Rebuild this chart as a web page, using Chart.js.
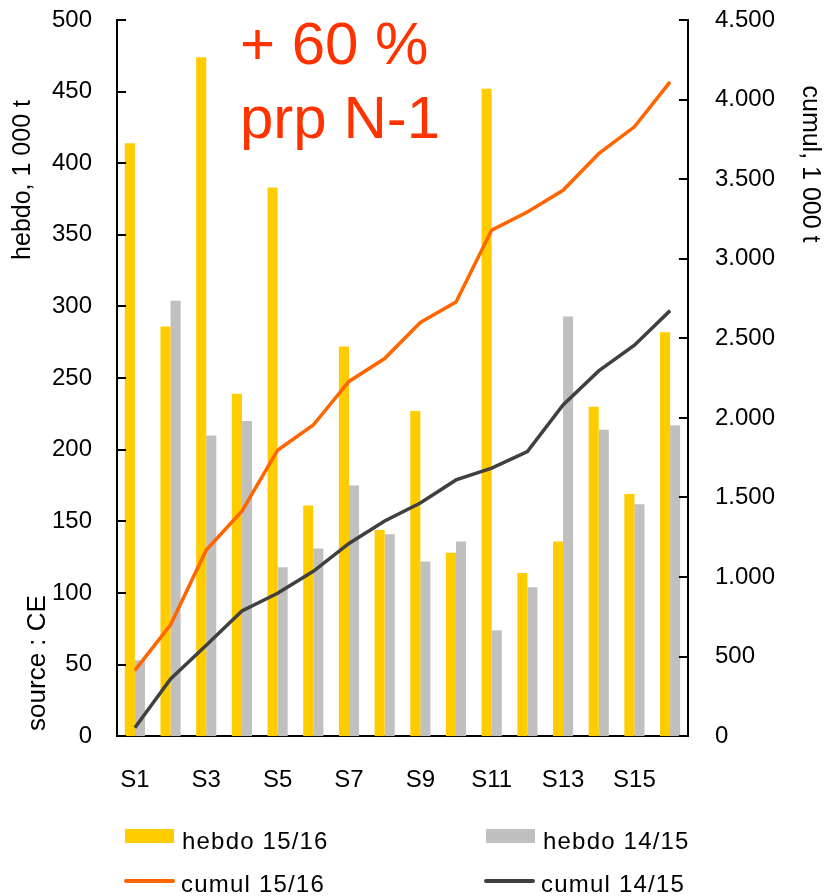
<!DOCTYPE html>
<html lang="fr">
<head>
<meta charset="utf-8">
<title>hebdo / cumul</title>
<script src="https://cdn.jsdelivr.net/npm/chart.js@4.4.1/dist/chart.umd.min.js"></script>
<style>
  html, body { margin: 0; padding: 0; background: #fff; }
  #wrap { position: relative; width: 826px; height: 896px; }
  #chart { position: absolute; left: 0; top: 0; }
  .leg { position: absolute; font: 24px "Liberation Sans", Arial, sans-serif; letter-spacing: 1.2px; color: #000; line-height: 24px; white-space: nowrap; }
  .leg i { position: absolute; display: block; }
</style>
</head>
<body>
<div id="wrap">
  <canvas id="chart" width="826" height="896"></canvas>
  <div id="legend"></div>
</div>
<script>
// semaines
const weeks = ['S1', 'S2', 'S3', 'S4', 'S5', 'S6', 'S7', 'S8', 'S9', 'S10', 'S11', 'S12', 'S13', 'S14', 'S15', 'S16'];

// volumes hebdo, 1 000 t (axe gauche)
const hebdo1516 = [414, 286, 474, 239, 383, 161, 272, 144, 227, 128, 452, 114, 136, 230, 169, 282];
const hebdo1415 = [53, 304, 210, 220, 118, 131, 175, 141, 122, 136, 74, 104, 293, 214, 162, 217];

// cumuls, 1 000 t (axe droit)
const cumul1516 = [414, 700, 1170, 1414, 1797, 1955, 2229, 2373, 2600, 2728, 3180, 3294, 3430, 3660, 3829, 4111];
const cumul1415 = [53, 360, 572, 787, 898, 1036, 1211, 1352, 1465, 1610, 1684, 1788, 2081, 2295, 2457, 2674];

// textes
const leftTitle = 'hebdo, 1 000 t';
const rightTitle = 'cumul, 1 000 t';
const sourceText = 'source : CE';
const noteLines = ['+ 60 %', 'prp N-1'];

const FONT = '"Liberation Sans", Arial, sans-serif';
Chart.defaults.font.family = FONT;
Chart.defaults.font.size = 24;
Chart.defaults.color = '#000';

// 4500 -> 4.500
function dotThousands(v) {
  return String(v).replace(/\B(?=(\d{3})+(?!\d))/g, '.');
}

// le padding des graduations ne doit pas pousser le haut du graphe
function noTopPad(scale) {
  scale.paddingTop = 0;
}

// petits traits de graduation vers l'intérieur + textes libres
const decorPlugin = {
  id: 'decor',
  afterDatasetsDraw(chart) {
    const ctx = chart.ctx;
    const yL = chart.scales.y;
    const yR = chart.scales.y2;
    ctx.save();
    ctx.strokeStyle = '#000';
    ctx.lineWidth = 2;
    yL.ticks.forEach((t, i) => {
      const py = Math.round(yL.getPixelForTick(i));
      ctx.beginPath();
      ctx.moveTo(yL.right, py);
      ctx.lineTo(yL.right + 9, py);
      ctx.stroke();
    });
    yR.ticks.forEach((t, i) => {
      const py = Math.round(yR.getPixelForTick(i));
      ctx.beginPath();
      ctx.moveTo(yR.left, py);
      ctx.lineTo(yR.left - 9, py);
      ctx.stroke();
    });
    ctx.restore();
  },
  afterDraw(chart) {
    const ctx = chart.ctx;
    ctx.save();
    ctx.fillStyle = '#000';
    ctx.textAlign = 'center';
    ctx.textBaseline = 'middle';

    // titre axe gauche
    ctx.font = '25px ' + FONT;
    ctx.save();
    ctx.translate(23, 180);
    ctx.rotate(-Math.PI / 2);
    ctx.fillText(leftTitle, 0, 0);
    ctx.restore();

    // source
    ctx.font = '26px ' + FONT;
    ctx.save();
    ctx.translate(38, 663);
    ctx.rotate(-Math.PI / 2);
    ctx.fillText(sourceText, 0, 0);
    ctx.restore();

    // titre axe droit
    ctx.font = '25px ' + FONT;
    ctx.save();
    ctx.translate(810, 164);
    ctx.rotate(Math.PI / 2);
    ctx.fillText(rightTitle, 0, 0);
    ctx.restore();

    // note en rouge
    ctx.font = '60px ' + FONT;
    ctx.fillStyle = '#FF3300';
    ctx.textAlign = 'left';
    ctx.textBaseline = 'alphabetic';
    ctx.fillText(noteLines[0], 240, 64);
    ctx.fillText(noteLines[1], 240, 138);
    ctx.restore();
  }
};

const ctx = document.getElementById('chart').getContext('2d');
const chart = new Chart(ctx, {
  type: 'bar',
  data: {
    labels: weeks,
    datasets: [
      { label: 'hebdo 15/16', data: hebdo1516, backgroundColor: '#FFCC00', yAxisID: 'y', order: 2,
        categoryPercentage: 0.565, barPercentage: 1 },
      { label: 'hebdo 14/15', data: hebdo1415, backgroundColor: '#C0C0C0', yAxisID: 'y', order: 2,
        categoryPercentage: 0.565, barPercentage: 1 },
      { type: 'line', label: 'cumul 15/16', data: cumul1516, borderColor: '#FF6600', borderWidth: 3.5,
        pointRadius: 0, tension: 0, yAxisID: 'y2', order: 0 },
      { type: 'line', label: 'cumul 14/15', data: cumul1415, borderColor: '#404040', borderWidth: 3.5,
        pointRadius: 0, tension: 0, yAxisID: 'y2', order: 1 }
    ]
  },
  options: {
    responsive: false,
    animation: false,
    layout: { padding: { left: 27, right: 24, top: 20, bottom: 71 } },
    plugins: {
      legend: { display: false },
      tooltip: { enabled: false }
    },
    scales: {
      x: {
        grid: { display: false, drawTicks: false },
        border: { display: true, color: '#000', width: 2 },
        ticks: {
          padding: 30,
          autoSkip: false,
          maxRotation: 0,
          callback: (v, i) => (i % 2 === 0 ? weeks[i] : '')
        }
      },
      y: {
        position: 'left',
        min: 0,
        max: 500,
        grid: { display: false, drawTicks: false },
        border: { display: true, color: '#000', width: 2 },
        ticks: { stepSize: 50, padding: 25 },
        afterFit: noTopPad
      },
      y2: {
        position: 'right',
        min: 0,
        max: 4500,
        grid: { display: false, drawTicks: false },
        border: { display: true, color: '#000', width: 2 },
        ticks: { stepSize: 500, padding: 27, callback: v => dotThousands(v) },
        afterFit: noTopPad
      }
    }
  },
  plugins: [decorPlugin]
});

// légende en deux colonnes, construite depuis les jeux de données
const legendEl = document.getElementById('legend');
const legendPos = [
  { x: 125, y: 829 },
  { x: 486, y: 829 },
  { x: 124, y: 872 },
  { x: 484, y: 872 }
];
chart.data.datasets.forEach((ds, i) => {
  const p = legendPos[i];
  const item = document.createElement('div');
  item.className = 'leg';
  item.style.left = p.x + 'px';
  item.style.top = p.y + 'px';
  item.style.paddingLeft = '57px';
  const mark = document.createElement('i');
  if (ds.type === 'line') {
    mark.style.cssText = 'left:0;top:7px;width:51px;height:4px;border-radius:2px;background:' + ds.borderColor;
  } else {
    mark.style.cssText = 'left:0;top:0;width:49px;height:14px;background:' + ds.backgroundColor;
  }
  item.appendChild(mark);
  item.appendChild(document.createTextNode(ds.label));
  legendEl.appendChild(item);
});
</script>
</body>
</html>
